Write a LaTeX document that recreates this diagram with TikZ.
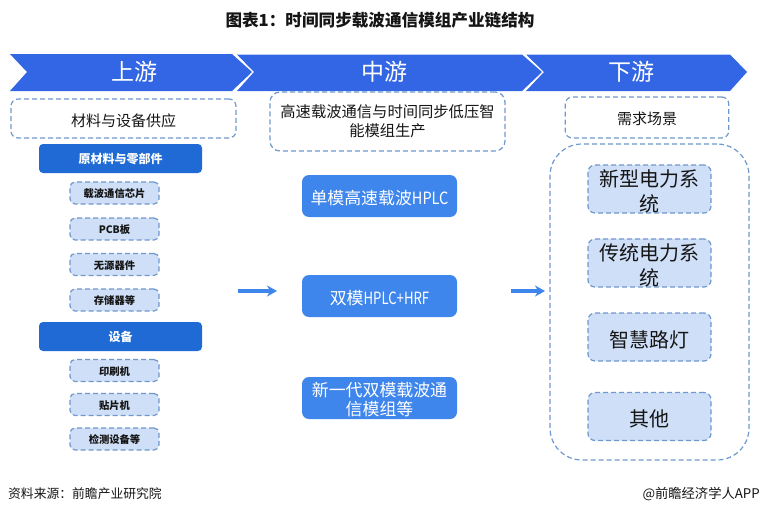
\documentclass[tikz,border=0pt]{standalone}
\usepackage{fontspec}
\usepackage{graphicx}
\setmainfont{Noto Sans CJK SC}
\usetikzlibrary{arrows.meta}

\definecolor{band_blue}{HTML}{3366E4}
\definecolor{head_blue}{HTML}{1F6AD4}
\definecolor{mid_blue}{HTML}{3F86EC}
\definecolor{pale_blue}{HTML}{CFDFF7}
\definecolor{dash_blue}{HTML}{6F98CC}
\definecolor{text_dark}{HTML}{151515}

\newcommand{\fsize}[1]{\fontsize{#1}{#1}\selectfont}
\newcommand{\narrow}[2]{\scalebox{#1}[1]{#2}}

\tikzset{
  band_pt/.style={fill=band_blue},
  band_txt/.style={text=white,font=\fsize{23}},
  dash_bx/.style={draw=dash_blue,dash pattern=on 5pt off 3pt,line width=1.2pt,rounded corners=7pt,inner sep=0pt,align=center,text=text_dark},
  head_bx/.style={fill=head_blue,rounded corners=4pt,inner sep=0pt,minimum width=163pt,minimum height=29pt,text=white,text height=12pt,font=\fsize{12}\bfseries},
  part_bx/.style={dash_bx,fill=pale_blue,rounded corners=5pt,minimum width=89pt,minimum height=22pt,text height=10.5pt,font=\fsize{10.3}\bfseries},
  mid_bx/.style={fill=mid_blue,rounded corners=7pt,inner sep=0pt,minimum width=155pt,minimum height=42pt,text=white,align=center,font=\fontsize{16.9}{19}\selectfont},
  use_bx/.style={dash_bx,fill=pale_blue,minimum width=123pt,minimum height=48pt,font=\fontsize{20}{24.5}\selectfont},
  flow_ar/.style={-{Stealth[length=10pt,width=11pt]},draw=mid_blue,line width=3.6pt},
}

\begin{document}
\begin{tikzpicture}[x=1pt,y=-1pt]
  \useasboundingbox (0,0) rectangle (760,514);

  \node (title) at (380,20) [text=text_dark,font=\fsize{16.6}\bfseries] {图表1：时间同步载波通信模组产业链结构};

  % bands
  \fill[band_pt] (10,54) -- (232,54) -- (252,72) -- (232,91) -- (10,91) -- (27,72) -- cycle;
  \fill[band_pt] (237,54.5) -- (522,54.5) -- (542,72) -- (522,91) -- (237,91) -- (254,72) -- cycle;
  \fill[band_pt] (526,54.5) -- (730,54.5) -- (747,72) -- (730,91) -- (526,91) -- (544,72) -- cycle;
  \node (up) at (134,72) [band_txt] {上游};
  \node (middle) at (384,72) [band_txt] {中游};
  \node (down) at (631,72) [band_txt] {下游};

  % upstream
  \node (supply) at (123.5,118.5) [dash_bx,minimum width=225pt,minimum height=39pt,text height=16.5pt,font=\fsize{15}] {材料与设备供应};
  \node (raw) at (120.5,158.5) [head_bx] {原材料与零部件};
  \foreach \Name/\Y/\Label in {chip/193/载波通信芯片,pcb/229/PCB板,passive/264.5/无源器件,memory/300/存储器等}{
    \node (\Name) at (114.5,\Y) [part_bx] {\Label};
  }
  \node (equip) at (120.5,336.5) [head_bx] {设备};
  \foreach \Name/\Y/\Label in {printer/370.5/印刷机,mounter/404.5/贴片机,tester/439/检测设备等}{
    \node (\Name) at (114.5,\Y) [part_bx] {\Label};
  }

  % midstream
  \node (module) at (387.5,121.5) [dash_bx,rounded corners=10pt,minimum width=235pt,minimum height=59pt,font=\fontsize{15.3}{19}\selectfont] {高速载波通信与时间同步低压智\\能模组生产};
  \node (single) at (379.5,196) [mid_bx,text height=17.5pt] {单模高速载波\narrow{.86}{HPLC}};
  \node (dual) at (379.5,296) [mid_bx,text height=17.5pt] {双模\narrow{.78}{HPLC+HRF}};
  \node (nextgen) at (379.5,398) [mid_bx] {\rule{0pt}{17pt}新一代双模载波通\\信模组等};

  % downstream
  \node (demand) at (647,117.5) [dash_bx,minimum width=163.5pt,minimum height=41pt,text height=15.5pt,font=\fsize{15}] {需求场景};
  \node (scene) at (649.5,302) [dash_bx,rounded corners=32pt,minimum width=199pt,minimum height=316pt] {};
  \node (grid) at (649.5,189) [use_bx] {\rule{0pt}{22pt}新型电力系\\统};
  \node (legacy) at (649.5,263) [use_bx] {\rule{0pt}{22pt}传统电力系\\统};
  \node (lamp) at (649.5,337) [use_bx,text height=22pt] {智慧路灯};
  \node (other) at (649.5,416.5) [use_bx,text height=22pt] {其他};

  % arrows
  \coordinate (a_s) at (238,291);
  \coordinate (a_e) at (277,291);
  \coordinate (b_s) at (511,291);
  \coordinate (b_e) at (545,291);
  \draw[flow_ar] (a_s) -- (a_e);
  \draw[flow_ar] (b_s) -- (b_e);

  \node (source) at (8,493.5) [anchor=west,inner sep=0pt,text=text_dark,font=\fsize{12.8}] {资料来源：前瞻产业研究院};
  \node (brand) at (760,493.5) [anchor=east,inner sep=0pt,text=text_dark,font=\fsize{13.3}] {@前瞻经济学人APP};
\end{tikzpicture}
\end{document}
